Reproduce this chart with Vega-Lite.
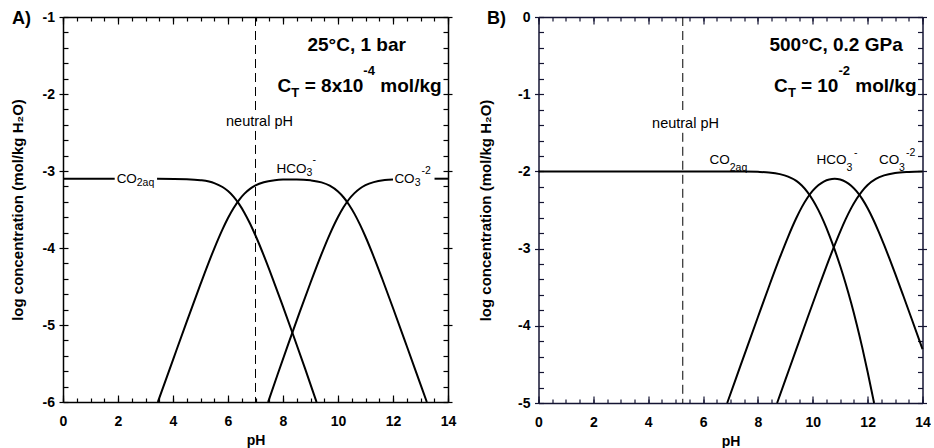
{
  "$schema": "https://vega.github.io/schema/vega-lite/v6.json",
  "background": "white",
  "padding": {"left": 10, "top": 10, "right": 0, "bottom": 0},
  "spacing": 90.5,
  "bounds": "flush",
  "config": {
    "view": {"stroke": null},
    "axis": {"grid": false, "domainColor": "black", "domainWidth": 1.5, "tickColor": "black", "tickWidth": 1.2, "labelColor": "black", "labelFont": "Liberation Sans", "labelFontSize": 14, "labelFontWeight": "bold", "titleFont": "Liberation Sans", "titleColor": "black", "titleFontWeight": "bold", "labelFlush": false, "labelOverlap": false},
    "text": {"font": "Liberation Sans", "color": "black"}
  },
  "hconcat": [
    {
      "width": 385, "height": 385,
      "resolve": {"axis": {"x": "independent", "y": "independent"}},
      "layer": [
        {
          "data": {"values": [
            {"s":"co2a","pH":0,"c":-3.1},{"s":"co2a","pH":1.88,"c":-3.1},
            {"s":"co2b","pH":3.42,"c":-3.1},{"s":"co2b","pH":4.5,"c":-3.106},{"s":"co2b","pH":5.0,"c":-3.119},{"s":"co2b","pH":5.5,"c":-3.157},{"s":"co2b","pH":5.8,"c":-3.208},{"s":"co2b","pH":6.0,"c":-3.26},{"s":"co2b","pH":6.2,"c":-3.332},{"s":"co2b","pH":6.4,"c":-3.427},{"s":"co2b","pH":6.6,"c":-3.544},{"s":"co2b","pH":6.8,"c":-3.682},{"s":"co2b","pH":7.0,"c":-3.838},{"s":"co2b","pH":7.3,"c":-4.096},{"s":"co2b","pH":7.6,"c":-4.374},{"s":"co2b","pH":8.0,"c":-4.762},{"s":"co2b","pH":8.4,"c":-5.159},{"s":"co2b","pH":8.8,"c":-5.564},{"s":"co2b","pH":9.22,"c":-6.0},
            {"s":"hco3","pH":3.45,"c":-6.0},{"s":"hco3","pH":4.0,"c":-5.452},{"s":"hco3","pH":4.5,"c":-4.956},{"s":"hco3","pH":5.0,"c":-4.469},{"s":"hco3","pH":5.5,"c":-4.007},{"s":"hco3","pH":5.8,"c":-3.758},{"s":"hco3","pH":6.0,"c":-3.61},{"s":"hco3","pH":6.2,"c":-3.483},{"s":"hco3","pH":6.4,"c":-3.377},{"s":"hco3","pH":6.6,"c":-3.294},{"s":"hco3","pH":6.8,"c":-3.232},{"s":"hco3","pH":7.0,"c":-3.188},{"s":"hco3","pH":7.3,"c":-3.146},{"s":"hco3","pH":7.7,"c":-3.12},{"s":"hco3","pH":8.0,"c":-3.112},{"s":"hco3","pH":8.5,"c":-3.109},{"s":"hco3","pH":9.0,"c":-3.121},{"s":"hco3","pH":9.4,"c":-3.148},{"s":"hco3","pH":9.7,"c":-3.191},{"s":"hco3","pH":10.0,"c":-3.267},{"s":"hco3","pH":10.2,"c":-3.341},{"s":"hco3","pH":10.4,"c":-3.438},{"s":"hco3","pH":10.6,"c":-3.557},{"s":"hco3","pH":10.8,"c":-3.697},{"s":"hco3","pH":11.0,"c":-3.854},{"s":"hco3","pH":11.3,"c":-4.114},{"s":"hco3","pH":11.6,"c":-4.393},{"s":"hco3","pH":12.0,"c":-4.779},{"s":"hco3","pH":12.5,"c":-5.273},{"s":"hco3","pH":13.0,"c":-5.771},{"s":"hco3","pH":13.23,"c":-6.0},
            {"s":"co3a","pH":7.46,"c":-6.0},{"s":"co3a","pH":7.8,"c":-5.646},{"s":"co3a","pH":8.2,"c":-5.239},{"s":"co3a","pH":8.6,"c":-4.84},{"s":"co3a","pH":9.0,"c":-4.451},{"s":"co3a","pH":9.4,"c":-4.079},{"s":"co3a","pH":9.7,"c":-3.822},{"s":"co3a","pH":10.0,"c":-3.597},{"s":"co3a","pH":10.2,"c":-3.471},{"s":"co3a","pH":10.4,"c":-3.367},{"s":"co3a","pH":10.6,"c":-3.287},{"s":"co3a","pH":10.8,"c":-3.227},{"s":"co3a","pH":11.0,"c":-3.184},{"s":"co3a","pH":11.3,"c":-3.144},{"s":"co3a","pH":11.7,"c":-3.118},{"s":"co3a","pH":12.0,"c":-3.109},
            {"s":"co3b","pH":13.51,"c":-3.1},{"s":"co3b","pH":14,"c":-3.1}
          ]},
          "mark": {"type": "line", "color": "black", "strokeWidth": 2, "interpolate": "monotone"},
          "encoding": {
            "x": {"field": "pH", "type": "quantitative", "scale": {"domain": [0, 14], "nice": false, "zero": false},
              "axis": {"orient": "bottom", "values": [0,2,4,6,8,10,12,14], "tickSize": -7, "labelPadding": 19, "title": "pH", "titleFontSize": 14, "titleY": 42, "titleBaseline": "alphabetic", "labelExpr": "'' + datum.value"}},
            "y": {"field": "c", "type": "quantitative", "scale": {"domain": [-6, -1], "nice": false, "zero": false},
              "axis": {"orient": "left", "values": [-6,-5,-4,-3,-2,-1], "tickSize": 4, "labelPadding": 4.5, "title": "log concentration (mol/kg H₂O)", "titleFontSize": 15, "titleX": -46, "titleY": 192.5, "titleBaseline": "middle", "titleAngle": -90, "labelExpr": "'' + datum.value"}},
            "detail": {"field": "s"}
          }
        },
        {
          "data": {"values": [{"pH": 7, "a": -1, "b": -2.22}, {"pH": 7, "a": -2.48, "b": -6}]},
          "mark": {"type": "rule", "color": "black", "strokeWidth": 1, "strokeDash": [9, 5]},
          "encoding": {
            "x": {"field": "pH", "type": "quantitative", "scale": {"domain": [0, 14], "nice": false, "zero": false},
              "axis": {"orient": "top", "values": [0,2,4,6,8,10,12,14], "tickSize": -7, "labels": false, "title": null}},
            "y": {"field": "a", "type": "quantitative", "scale": {"domain": [-6, -1], "nice": false, "zero": false},
              "axis": {"orient": "right", "values": [-6,-5,-4,-3,-2,-1], "tickSize": 4, "labels": false, "title": null}},
            "y2": {"field": "b"}
          }
        },
        {
          "data": {"values": [{"pH": 1.95, "c": -3.157, "t": "CO"}, {"pH": 7.764, "c": -3.023, "t": "HCO"}, {"pH": 12.05, "c": -3.157, "t": "CO"}]},
          "mark": {"type": "text", "align": "left", "baseline": "alphabetic", "fontSize": 13.5},
          "encoding": {
            "x": {"field": "pH", "type": "quantitative", "scale": {"domain": [0, 14], "nice": false, "zero": false},
              "axis": {"orient": "bottom", "values": [0,0.5,1,1.5,2,2.5,3,3.5,4,4.5,5,5.5,6,6.5,7,7.5,8,8.5,9,9.5,10,10.5,11,11.5,12,12.5,13,13.5,14], "tickSize": -4, "labels": false, "domain": false, "title": null}},
            "y": {"field": "c", "type": "quantitative", "scale": {"domain": [-6, -1], "nice": false, "zero": false},
              "axis": {"orient": "left", "values": [-6,-5.8,-5.6,-5.4,-5.2,-5,-4.8,-4.6,-4.4,-4.2,-4,-3.8,-3.6,-3.4,-3.2,-3,-2.8,-2.6,-2.4,-2.2,-2,-1.8,-1.6,-1.4,-1.2,-1], "tickSize": -5, "labels": false, "domain": false, "title": null}},
            "text": {"field": "t"}
          }
        },
        {
          "data": {"values": [{"pH": 2.68, "c": -3.201, "t": "2aq"}, {"pH": 8.855, "c": -3.065, "t": "3"}, {"pH": 9.07, "c": -2.896, "t": "-"}, {"pH": 12.79, "c": -3.201, "t": "3"}, {"pH": 13.04, "c": -3.039, "t": "-2"}]},
          "mark": {"type": "text", "align": "left", "baseline": "alphabetic", "fontSize": 10.5},
          "encoding": {
            "x": {"field": "pH", "type": "quantitative", "scale": {"domain": [0, 14], "nice": false, "zero": false},
              "axis": {"orient": "top", "values": [0,0.5,1,1.5,2,2.5,3,3.5,4,4.5,5,5.5,6,6.5,7,7.5,8,8.5,9,9.5,10,10.5,11,11.5,12,12.5,13,13.5,14], "tickSize": -4, "labels": false, "domain": false, "title": null}},
            "y": {"field": "c", "type": "quantitative", "scale": {"domain": [-6, -1], "nice": false, "zero": false},
              "axis": {"orient": "right", "values": [-6,-5.8,-5.6,-5.4,-5.2,-5,-4.8,-4.6,-4.4,-4.2,-4,-3.8,-3.6,-3.4,-3.2,-3,-2.8,-2.6,-2.4,-2.2,-2,-1.8,-1.6,-1.4,-1.2,-1], "tickSize": -5, "labels": false, "domain": false, "title": null}},
            "text": {"field": "t"}
          }
        },
        {
          "data": {"values": [{"pH": 7.145, "c": -2.413, "t": "neutral pH"}]},
          "mark": {"type": "text", "align": "center", "baseline": "alphabetic", "fontSize": 14.5},
          "encoding": {
            "x": {"field": "pH", "type": "quantitative", "scale": {"domain": [0, 14], "nice": false, "zero": false}, "axis": null},
            "y": {"field": "c", "type": "quantitative", "scale": {"domain": [-6, -1], "nice": false, "zero": false}, "axis": null},
            "text": {"field": "t"}
          }
        },
        {
          "data": {"values": [{"pH": 8.89, "c": -1.438, "t": "25°C, 1 bar"}, {"pH": 7.8, "c": -1.974, "t": "C"}, {"pH": 8.79, "c": -1.974, "t": "= 8x10"}, {"pH": 11.54, "c": -1.974, "t": "mol/kg"}]},
          "mark": {"type": "text", "align": "left", "baseline": "alphabetic", "fontSize": 19, "fontWeight": "bold"},
          "encoding": {
            "x": {"field": "pH", "type": "quantitative", "scale": {"domain": [0, 14], "nice": false, "zero": false}, "axis": null},
            "y": {"field": "c", "type": "quantitative", "scale": {"domain": [-6, -1], "nice": false, "zero": false}, "axis": null},
            "text": {"field": "t"}
          }
        },
        {
          "data": {"values": [{"pH": 8.3, "c": -2.039, "t": "T"}, {"pH": 10.92, "c": -1.753, "t": "-4"}]},
          "mark": {"type": "text", "align": "left", "baseline": "alphabetic", "fontSize": 13, "fontWeight": "bold"},
          "encoding": {
            "x": {"field": "pH", "type": "quantitative", "scale": {"domain": [0, 14], "nice": false, "zero": false}, "axis": null},
            "y": {"field": "c", "type": "quantitative", "scale": {"domain": [-6, -1], "nice": false, "zero": false}, "axis": null},
            "text": {"field": "t"}
          }
        },
        {
          "data": {"values": [{"pH": -1.51, "c": -1.03, "t": "A)"}]},
          "mark": {"type": "text", "align": "center", "baseline": "middle", "fontSize": 18, "fontWeight": "bold"},
          "encoding": {
            "x": {"field": "pH", "type": "quantitative", "scale": {"domain": [0, 14], "nice": false, "zero": false}, "axis": null},
            "y": {"field": "c", "type": "quantitative", "scale": {"domain": [-6, -1], "nice": false, "zero": false}, "axis": null},
            "text": {"field": "t"}
          }
        }
      ]
    },
    {
      "width": 384, "height": 386,
      "resolve": {"axis": {"x": "independent", "y": "independent"}},
      "layer": [
        {
          "data": {"values": [
            {"s":"co2","pH":0,"c":-2.0},{"s":"co2","pH":7.5,"c":-2.002},{"s":"co2","pH":8.0,"c":-2.006},{"s":"co2","pH":8.4,"c":-2.014},{"s":"co2","pH":8.8,"c":-2.035},{"s":"co2","pH":9.1,"c":-2.067},{"s":"co2","pH":9.4,"c":-2.123},{"s":"co2","pH":9.6,"c":-2.183},{"s":"co2","pH":9.8,"c":-2.265},{"s":"co2","pH":10.0,"c":-2.37},{"s":"co2","pH":10.2,"c":-2.499},{"s":"co2","pH":10.4,"c":-2.651},{"s":"co2","pH":10.6,"c":-2.824},{"s":"co2","pH":10.8,"c":-3.016},{"s":"co2","pH":11.0,"c":-3.226},{"s":"co2","pH":11.2,"c":-3.455},{"s":"co2","pH":11.4,"c":-3.705},{"s":"co2","pH":11.6,"c":-3.979},{"s":"co2","pH":11.8,"c":-4.276},{"s":"co2","pH":12.0,"c":-4.598},{"s":"co2","pH":12.2,"c":-4.94},{"s":"co2","pH":12.235,"c":-5.0},
            {"s":"hco3","pH":6.88,"c":-5.0},{"s":"hco3","pH":7.2,"c":-4.681},{"s":"hco3","pH":7.6,"c":-4.282},{"s":"hco3","pH":8.0,"c":-3.886},{"s":"hco3","pH":8.4,"c":-3.494},{"s":"hco3","pH":8.8,"c":-3.115},{"s":"hco3","pH":9.1,"c":-2.847},{"s":"hco3","pH":9.4,"c":-2.604},{"s":"hco3","pH":9.6,"c":-2.463},{"s":"hco3","pH":9.8,"c":-2.345},{"s":"hco3","pH":10.0,"c":-2.25},{"s":"hco3","pH":10.2,"c":-2.179},{"s":"hco3","pH":10.4,"c":-2.131},{"s":"hco3","pH":10.6,"c":-2.104},{"s":"hco3","pH":10.8,"c":-2.096},{"s":"hco3","pH":11.0,"c":-2.106},{"s":"hco3","pH":11.2,"c":-2.135},{"s":"hco3","pH":11.4,"c":-2.185},{"s":"hco3","pH":11.6,"c":-2.259},{"s":"hco3","pH":11.8,"c":-2.356},{"s":"hco3","pH":12.0,"c":-2.478},{"s":"hco3","pH":12.2,"c":-2.62},{"s":"hco3","pH":12.4,"c":-2.779},{"s":"hco3","pH":12.6,"c":-2.952},{"s":"hco3","pH":12.8,"c":-3.133},{"s":"hco3","pH":13.0,"c":-3.321},{"s":"hco3","pH":13.3,"c":-3.611},{"s":"hco3","pH":13.6,"c":-3.905},{"s":"hco3","pH":14.0,"c":-4.302},
            {"s":"co3","pH":8.7,"c":-5.0},{"s":"co3","pH":9.0,"c":-4.701},{"s":"co3","pH":9.4,"c":-4.302},{"s":"co3","pH":9.8,"c":-3.905},{"s":"co3","pH":10.2,"c":-3.514},{"s":"co3","pH":10.5,"c":-3.227},{"s":"co3","pH":10.8,"c":-2.952},{"s":"co3","pH":11.0,"c":-2.779},{"s":"co3","pH":11.2,"c":-2.619},{"s":"co3","pH":11.4,"c":-2.476},{"s":"co3","pH":11.6,"c":-2.354},{"s":"co3","pH":11.8,"c":-2.254},{"s":"co3","pH":12.0,"c":-2.176},{"s":"co3","pH":12.3,"c":-2.097},{"s":"co3","pH":12.6,"c":-2.052},{"s":"co3","pH":13.0,"c":-2.021},{"s":"co3","pH":13.5,"c":-2.007},{"s":"co3","pH":14.0,"c":-2.002}
          ]},
          "mark": {"type": "line", "color": "black", "strokeWidth": 2, "interpolate": "monotone"},
          "encoding": {
            "x": {"field": "pH", "type": "quantitative", "scale": {"domain": [0, 14], "nice": false, "zero": false},
              "axis": {"orient": "bottom", "values": [0,2,4,6,8,10,12,14], "domainColor": "#141433", "tickColor": "#141433", "tickSize": -7, "labelPadding": 19, "title": "pH", "titleFontSize": 14, "titleY": 42, "titleBaseline": "alphabetic", "labelExpr": "'' + datum.value"}},
            "y": {"field": "c", "type": "quantitative", "scale": {"domain": [-5, 0], "nice": false, "zero": false},
              "axis": {"orient": "left", "values": [-5,-4,-3,-2,-1,0], "domainColor": "#141433", "tickColor": "#141433", "tickSize": 4, "labelPadding": 4.5, "title": "log concentration (mol/kg H₂O)", "titleFontSize": 15, "titleX": -53, "titleY": 193, "titleBaseline": "middle", "titleAngle": -90, "labelExpr": "'' + datum.value"}},
            "detail": {"field": "s"}
          }
        },
        {
          "data": {"values": [{"pH": 5.26, "a": 0, "b": -1.26}, {"pH": 5.26, "a": -1.5, "b": -5}]},
          "mark": {"type": "rule", "color": "black", "strokeWidth": 1, "strokeDash": [9, 5]},
          "encoding": {
            "x": {"field": "pH", "type": "quantitative", "scale": {"domain": [0, 14], "nice": false, "zero": false},
              "axis": {"orient": "top", "values": [0,2,4,6,8,10,12,14], "domainColor": "#141433", "tickColor": "#141433", "tickSize": -7, "labels": false, "title": null}},
            "y": {"field": "a", "type": "quantitative", "scale": {"domain": [-5, 0], "nice": false, "zero": false},
              "axis": {"orient": "right", "values": [-5,-4,-3,-2,-1,0], "domainColor": "#141433", "tickColor": "#141433", "tickSize": 4, "labels": false, "title": null}},
            "y2": {"field": "b"}
          }
        },
        {
          "data": {"values": [{"pH": 6.234, "c": -1.9, "t": "CO"}, {"pH": 10.135, "c": -1.9, "t": "HCO"}, {"pH": 12.41, "c": -1.9, "t": "CO"}]},
          "mark": {"type": "text", "align": "left", "baseline": "alphabetic", "fontSize": 13.5},
          "encoding": {
            "x": {"field": "pH", "type": "quantitative", "scale": {"domain": [0, 14], "nice": false, "zero": false},
              "axis": {"orient": "bottom", "values": [0,0.5,1,1.5,2,2.5,3,3.5,4,4.5,5,5.5,6,6.5,7,7.5,8,8.5,9,9.5,10,10.5,11,11.5,12,12.5,13,13.5,14], "tickColor": "#141433", "tickSize": -4, "labels": false, "domain": false, "title": null}},
            "y": {"field": "c", "type": "quantitative", "scale": {"domain": [-5, 0], "nice": false, "zero": false},
              "axis": {"orient": "left", "values": [-5,-4.8,-4.6,-4.4,-4.2,-4,-3.8,-3.6,-3.4,-3.2,-3,-2.8,-2.6,-2.4,-2.2,-2,-1.8,-1.6,-1.4,-1.2,-1,-0.8,-0.6,-0.4,-0.2,0], "tickColor": "#141433", "tickSize": -5, "labels": false, "domain": false, "title": null}},
            "text": {"field": "t"}
          }
        },
        {
          "data": {"values": [{"pH": 6.972, "c": -1.995, "t": "2aq"}, {"pH": 11.229, "c": -1.995, "t": "3"}, {"pH": 11.5, "c": -1.8, "t": "-"}, {"pH": 13.145, "c": -1.995, "t": "3"}, {"pH": 13.4, "c": -1.8, "t": "-2"}]},
          "mark": {"type": "text", "align": "left", "baseline": "alphabetic", "fontSize": 10.5},
          "encoding": {
            "x": {"field": "pH", "type": "quantitative", "scale": {"domain": [0, 14], "nice": false, "zero": false},
              "axis": {"orient": "top", "values": [0,0.5,1,1.5,2,2.5,3,3.5,4,4.5,5,5.5,6,6.5,7,7.5,8,8.5,9,9.5,10,10.5,11,11.5,12,12.5,13,13.5,14], "tickColor": "#141433", "tickSize": -4, "labels": false, "domain": false, "title": null}},
            "y": {"field": "c", "type": "quantitative", "scale": {"domain": [-5, 0], "nice": false, "zero": false},
              "axis": {"orient": "right", "values": [-5,-4.8,-4.6,-4.4,-4.2,-4,-3.8,-3.6,-3.4,-3.2,-3,-2.8,-2.6,-2.4,-2.2,-2,-1.8,-1.6,-1.4,-1.2,-1,-0.8,-0.6,-0.4,-0.2,0], "tickColor": "#141433", "tickSize": -5, "labels": false, "domain": false, "title": null}},
            "text": {"field": "t"}
          }
        },
        {
          "data": {"values": [{"pH": 5.36, "c": -1.438, "t": "neutral pH"}]},
          "mark": {"type": "text", "align": "center", "baseline": "alphabetic", "fontSize": 14.5},
          "encoding": {
            "x": {"field": "pH", "type": "quantitative", "scale": {"domain": [0, 14], "nice": false, "zero": false}, "axis": null},
            "y": {"field": "c", "type": "quantitative", "scale": {"domain": [-5, 0], "nice": false, "zero": false}, "axis": null},
            "text": {"field": "t"}
          }
        },
        {
          "data": {"values": [{"pH": 8.42, "c": -0.437, "t": "500°C, 0.2 GPa"}, {"pH": 8.585, "c": -0.9715, "t": "C"}, {"pH": 9.566, "c": -0.9715, "t": "= 10"}, {"pH": 11.55, "c": -0.9715, "t": "mol/kg"}]},
          "mark": {"type": "text", "align": "left", "baseline": "alphabetic", "fontSize": 19, "fontWeight": "bold"},
          "encoding": {
            "x": {"field": "pH", "type": "quantitative", "scale": {"domain": [0, 14], "nice": false, "zero": false}, "axis": null},
            "y": {"field": "c", "type": "quantitative", "scale": {"domain": [-5, 0], "nice": false, "zero": false}, "axis": null},
            "text": {"field": "t"}
          }
        },
        {
          "data": {"values": [{"pH": 9.096, "c": -1.036, "t": "T"}, {"pH": 10.937, "c": -0.751, "t": "-2"}]},
          "mark": {"type": "text", "align": "left", "baseline": "alphabetic", "fontSize": 13, "fontWeight": "bold"},
          "encoding": {
            "x": {"field": "pH", "type": "quantitative", "scale": {"domain": [0, 14], "nice": false, "zero": false}, "axis": null},
            "y": {"field": "c", "type": "quantitative", "scale": {"domain": [-5, 0], "nice": false, "zero": false}, "axis": null},
            "text": {"field": "t"}
          }
        },
        {
          "data": {"values": [{"pH": -1.53, "c": -0.03, "t": "B)"}]},
          "mark": {"type": "text", "align": "center", "baseline": "middle", "fontSize": 18, "fontWeight": "bold"},
          "encoding": {
            "x": {"field": "pH", "type": "quantitative", "scale": {"domain": [0, 14], "nice": false, "zero": false}, "axis": null},
            "y": {"field": "c", "type": "quantitative", "scale": {"domain": [-5, 0], "nice": false, "zero": false}, "axis": null},
            "text": {"field": "t"}
          }
        }
      ]
    }
  ]
}
